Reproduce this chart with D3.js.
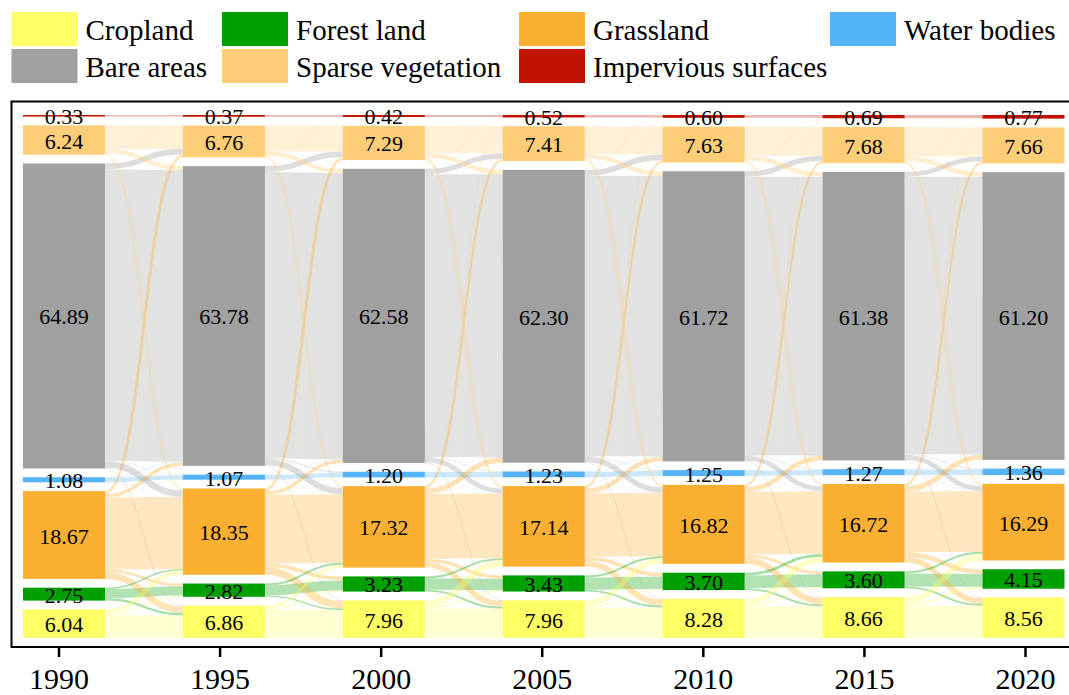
<!DOCTYPE html>
<html>
<head>
<meta charset="utf-8">
<script src="https://cdn.jsdelivr.net/npm/d3@7/dist/d3.min.js"></script>
<style>
  html, body { margin: 0; padding: 0; background: #fff; }
  svg { display: block; }
  text { font-family: "Liberation Serif", "Times New Roman", serif; fill: #000; }
</style>
</head>
<body>
<svg id="chart" width="1069" height="695"></svg>
<script>
// Land-cover shares (%) by year, stacked top to bottom in this order
const years = [1990, 1995, 2000, 2005, 2010, 2015, 2020];
const categories = ["imp", "spa", "bar", "wat", "gra", "for", "cro"];
const categoryNames = ["Impervious surfaces", "Sparse vegetation", "Bare areas", "Water bodies", "Grassland", "Forest land", "Cropland"];
const categoryColors = ["#c01400", "#fecd78", "#a0a0a0", "#55b4f8", "#fcb031", "#00a000", "#ffff66"];

const impervious = [0.33, 0.37, 0.42, 0.52, 0.60, 0.69, 0.77];
const sparseVegetation = [6.24, 6.76, 7.29, 7.41, 7.63, 7.68, 7.66];
const bareAreas = [64.89, 63.78, 62.58, 62.30, 61.72, 61.38, 61.20];
const waterBodies = [1.08, 1.07, 1.20, 1.23, 1.25, 1.27, 1.36];
const grassland = [18.67, 18.35, 17.32, 17.14, 16.82, 16.72, 16.29];
const forestLand = [2.75, 2.82, 3.23, 3.43, 3.70, 3.60, 4.15];
const cropland = [6.04, 6.86, 7.96, 7.96, 8.28, 8.66, 8.56];

// Conversions between classes in each five-year period (from, to, % of area)
const flows1990 = [["bar","imp",0.02],["cro","imp",0.02],["bar","spa",1.2],["spa","bar",0.9],["gra","spa",0.6],["spa","gra",0.38],["bar","wat",0.1],["wat","bar",0.12],["gra","wat",0.03],["wat","gra",0.02],["bar","gra",1.4],["gra","bar",0.74],["bar","cro",0.15],["gra","cro",1.4],["gra","for",0.6],["cro","for",0.27],["for","gra",0.3],["for","cro",0.5],["cro","gra",0.94]];
const flows1995 = [["bar","imp",0.03],["cro","imp",0.02],["bar","spa",1.2],["spa","bar",0.9],["gra","spa",0.6],["spa","gra",0.37],["bar","wat",0.2],["wat","bar",0.08],["gra","wat",0.03],["wat","gra",0.02],["bar","gra",1.3],["gra","bar",0.7],["bar","cro",0.15],["gra","cro",1.6],["gra","for",0.8],["cro","for",0.3],["for","gra",0.4],["for","cro",0.29],["cro","gra",0.62]];
const flows2000 = [["bar","imp",0.04],["cro","imp",0.04],["gra","imp",0.02],["bar","spa",1.1],["spa","bar",0.95],["gra","spa",0.5],["spa","gra",0.53],["bar","wat",0.12],["wat","bar",0.08],["gra","wat",0.02],["wat","gra",0.03],["bar","gra",1.0],["gra","bar",1.1],["bar","cro",0.15],["gra","cro",1.2],["gra","for",0.7],["cro","for",0.3],["for","gra",0.4],["for","cro",0.4],["cro","gra",1.41]];
const flows2005 = [["bar","imp",0.03],["cro","imp",0.03],["gra","imp",0.02],["bar","spa",1.2],["spa","bar",0.95],["gra","spa",0.5],["spa","gra",0.53],["bar","wat",0.12],["wat","bar",0.09],["gra","wat",0.02],["wat","gra",0.03],["bar","gra",1.1],["gra","bar",0.98],["bar","cro",0.15],["gra","cro",1.3],["gra","for",0.8],["cro","for",0.3],["for","gra",0.45],["for","cro",0.38],["cro","gra",1.18]];
const flows2010 = [["bar","imp",0.04],["cro","imp",0.03],["gra","imp",0.02],["bar","spa",1.1],["spa","bar",1.0],["gra","spa",0.45],["spa","gra",0.5],["bar","wat",0.12],["wat","bar",0.08],["gra","wat",0.02],["wat","gra",0.04],["bar","gra",1.0],["gra","bar",0.99],["bar","cro",0.15],["gra","cro",1.4],["gra","for",0.6],["cro","for",0.3],["for","gra",0.6],["for","cro",0.4],["cro","gra",1.24]];
const flows2015 = [["bar","imp",0.03],["cro","imp",0.03],["gra","imp",0.02],["bar","spa",1.0],["spa","bar",1.0],["gra","spa",0.45],["spa","gra",0.47],["bar","wat",0.16],["wat","bar",0.07],["gra","wat",0.02],["wat","gra",0.02],["bar","gra",1.0],["gra","bar",1.09],["bar","cro",0.15],["gra","cro",1.2],["gra","for",1.0],["cro","for",0.4],["for","gra",0.45],["for","cro",0.4],["cro","gra",1.42]];

const legendRow1 = ["cro", "for", "gra", "wat"];
const legendRow2 = ["bar", "spa", "imp"];

// ---- layout ----
const seriesByCat = { imp: impervious, spa: sparseVegetation, bar: bareAreas, wat: waterBodies, gra: grassland, for: forestLand, cro: cropland };
const periodFlows = [flows1990, flows1995, flows2000, flows2005, flows2010, flows2015];
const catIndex = new Map(categories.map((c, i) => [c, i]));
const color = d3.scaleOrdinal(categories, categoryColors);
const nameOf = d3.scaleOrdinal(categories, categoryNames);

const unit = 4.7;        // px per percent
const nodeGap = 8.8;     // px between stacked classes
const nodeTop = 115;
const nodeWidth = 82;

const svg = d3.select("#chart");
const xNode = d3.scalePoint(years, [64, 1023.5]);
const xAxisScale = d3.scalePoint(years, [58.5, 1025]);
const h = d3.scaleLinear([0, 1], [0, unit]);

// node rectangles per year
const nodes = years.map((yr, t) => {
  let y = nodeTop;
  return categories.map(c => {
    const v = seriesByCat[c][t];
    const n = { cat: c, t, year: yr, value: v, x0: xNode(yr) - nodeWidth / 2, x1: xNode(yr) + nodeWidth / 2, y0: y, y1: y + h(v) };
    y = n.y1 + nodeGap;
    return n;
  });
});

// links: persistence (same class) plus conversions
const links = [];
periodFlows.forEach((fl, t) => {
  const list = fl.map(([s, d, v]) => ({ s, d, v, stay: false }));
  categories.forEach(c => {
    const out = d3.sum(list.filter(l => l.s === c), l => l.v);
    list.push({ s: c, d: c, v: seriesByCat[c][t] - out, stay: true });
  });
  categories.forEach(c => {
    const src = nodes[t][catIndex.get(c)];
    let off = src.y0;
    list.filter(l => l.s === c).sort((a, b) => catIndex.get(a.d) - catIndex.get(b.d)).forEach(l => {
      l.ys = off + h(l.v) / 2; off += h(l.v); l.x0 = src.x1;
    });
    const dst = nodes[t + 1][catIndex.get(c)];
    let offT = dst.y0;
    list.filter(l => l.d === c).sort((a, b) => catIndex.get(a.s) - catIndex.get(b.s)).forEach(l => {
      l.yt = offT + h(l.v) / 2; offT += h(l.v); l.x1 = dst.x0;
    });
  });
  links.push(...list.filter(l => l.stay), ...list.filter(l => !l.stay));
});

const linkPath = d3.linkHorizontal().source(d => [d.x0, d.ys]).target(d => [d.x1, d.yt]);

svg.append("g").attr("fill", "none")
  .selectAll("path").data(links).join("path")
  .attr("d", linkPath)
  .attr("stroke", d => color(d.s))
  .attr("stroke-opacity", d => d.stay ? 0.3 : 0.35)
  .attr("stroke-width", d => Math.max(0.3, h(d.v)));

const allNodes = nodes.flat();
svg.append("g").selectAll("rect").data(allNodes).join("rect")
  .attr("x", d => d.x0).attr("y", d => d.y0)
  .attr("width", d => d.x1 - d.x0).attr("height", d => d.y1 - d.y0)
  .attr("fill", d => color(d.cat));

svg.append("g").attr("font-size", 22).attr("text-anchor", "middle")
  .selectAll("text").data(allNodes).join("text")
  .attr("x", d => (d.x0 + d.x1) / 2)
  .attr("y", d => (d.y0 + d.y1) / 2 + 8.5)
  .text(d => d.value.toFixed(2));

// frame and year axis
const axisY = 647;
svg.append("rect").attr("x", 11.5).attr("y", 101.5).attr("width", 1080).attr("height", axisY - 101.5)
  .attr("fill", "none").attr("stroke", "#000").attr("stroke-width", 2);

const axis = svg.append("g").attr("transform", `translate(0,${axisY})`)
  .call(d3.axisBottom(xAxisScale).tickSize(10).tickSizeOuter(0));
axis.select(".domain").remove();
axis.selectAll(".tick line").attr("stroke", "#000").attr("stroke-width", 2.5);
axis.selectAll(".tick text").attr("y", 41.5).attr("dy", 0)
  .attr("font-size", 30).attr("font-family", "Liberation Serif, Times New Roman, serif").attr("fill", "#000");

// legend
const legendCols = [11.5, 222, 519, 830];
const legendRows = [12, 49];
const legendItems = [
  ...legendRow1.map((c, i) => ({ c, x: legendCols[i], y: legendRows[0] })),
  ...legendRow2.map((c, i) => ({ c, x: legendCols[i], y: legendRows[1] }))
];
const lg = svg.append("g").selectAll("g").data(legendItems).join("g")
  .attr("transform", d => `translate(${d.x},${d.y})`);
lg.append("rect").attr("width", 66).attr("height", 34).attr("fill", d => color(d.c));
lg.append("text").attr("x", 74).attr("y", 27.5).attr("font-size", 29).text(d => nameOf(d.c));
</script>
</body>
</html>
